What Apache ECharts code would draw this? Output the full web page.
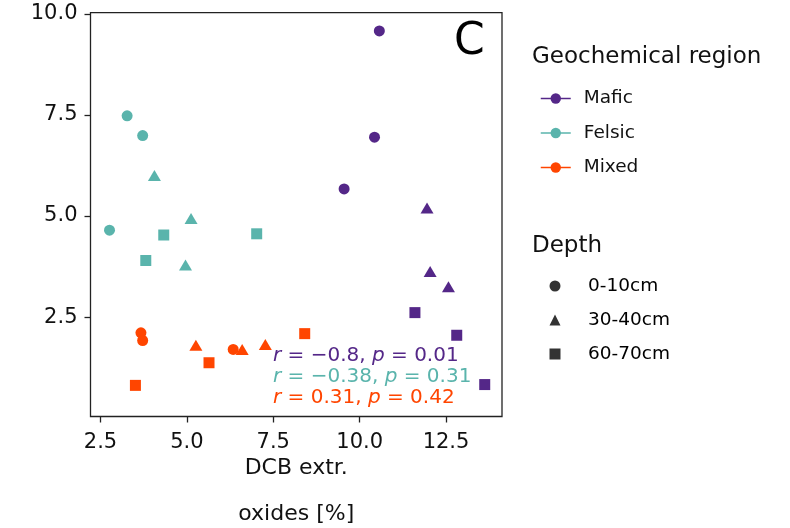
<!DOCTYPE html>
<html>
<head>
<meta charset="utf-8">
<script src="https://cdn.jsdelivr.net/npm/echarts@6/dist/echarts.min.js"></script>
<style>
  html, body { margin: 0; padding: 0; background: #fff; }
  #chart { width: 790px; height: 528px; }
</style>
</head>
<body>
<div id="chart"></div>
<script>
// [x, y, depth index]
const regions = ['Mafic', 'Felsic', 'Mixed']
const depths = ['0-10cm', '30-40cm', '60-70cm']
const mafic = [
  [10.57, 9.58, 0], [10.43, 6.95, 0], [9.55, 5.67, 0],
  [11.95, 5.20, 1], [12.04, 3.63, 1], [12.57, 3.25, 1],
  [11.60, 2.61, 2], [12.81, 2.05, 2], [13.62, 0.83, 2]
]
const felsic = [
  [3.27, 7.48, 0], [3.72, 6.99, 0], [2.76, 4.65, 0],
  [4.06, 6.00, 1], [5.12, 4.94, 1], [4.96, 3.79, 1],
  [4.33, 4.53, 2], [7.02, 4.56, 2], [3.81, 3.90, 2]
]
const mixed = [
  [3.67, 2.11, 0], [3.72, 1.92, 0], [6.34, 1.70, 0],
  [5.26, 1.80, 1], [6.60, 1.70, 1], [7.27, 1.82, 1],
  [8.41, 2.09, 2], [5.64, 1.37, 2], [3.51, 0.81, 2]
]
const xTicks = [2.5, 5.0, 7.5, 10.0, 12.5]
const yTicks = [2.5, 5.0, 7.5, 10.0]
const stats = [
  { r: '\u22120.8', p: '0.01' },
  { r: '\u22120.38', p: '0.31' },
  { r: '0.31', p: '0.42' }
]

const colors = ['#542788', '#5ab4ac', '#ff4500']
const shapes = ['circle', 'triangle', 'rect']
const shapeSizes = [11, [13, 11], 11]
const font = 'DejaVu Sans'

const regionData = [mafic, felsic, mixed]

const regionSeries = regions.map((name, i) => ({
  name,
  type: 'line',
  symbol: 'circle',
  color: colors[i],
  lineStyle: { opacity: 0 },
  itemStyle: { color: colors[i] },
  z: 3,
  data: regionData[i].map(d => ({
    value: [d[0], d[1]],
    symbol: shapes[d[2]],
    symbolSize: shapeSizes[d[2]]
  }))
}))

const depthSeries = depths.map((name, i) => ({
  name,
  type: 'scatter',
  symbol: shapes[i],
  itemStyle: { color: '#000' },
  data: []
}))

const statTexts = stats.map((s, i) => ({
  type: 'text',
  left: 273,
  top: 346 + i * 21,
  style: {
    text: '{i|r} = ' + s.r + ', {i|p} = ' + s.p,
    fill: colors[i],
    font: '20px ' + font,
    rich: { i: { fontStyle: 'italic', fontSize: 20, fontFamily: font, fill: colors[i] } }
  }
}))

const chart = echarts.init(document.getElementById('chart'))
chart.setOption({
  animation: false,
  grid: {
    left: 90.5, top: 12.7, right: 288, bottom: 111.5,
    outerBoundsMode: 'none',
    show: true, borderColor: '#222', borderWidth: 1.3
  },
  xAxis: {
    type: 'value',
    min: 2.21, max: 14.12,
    axisLine: { show: false },
    splitLine: { show: false },
    axisTick: { show: true, length: 6, lineStyle: { color: '#222', width: 1.3 }, customValues: xTicks },
    axisLabel: { customValues: xTicks, formatter: v => v.toFixed(1), fontSize: 21, fontFamily: font, color: '#111', margin: 16 },
    name: 'DCB extr.\noxides [%]',
    nameLocation: 'middle',
    nameGap: 29,
    nameMoveOverlap: false,
    nameTextStyle: { fontSize: 22, fontFamily: font, color: '#111', lineHeight: 46 }
  },
  yAxis: {
    type: 'value',
    min: 0.04, max: 10.03,
    axisLine: { show: false },
    splitLine: { show: false },
    axisTick: { show: true, length: 6, lineStyle: { color: '#222', width: 1.3 }, customValues: yTicks },
    axisLabel: { customValues: yTicks, formatter: v => v.toFixed(1), fontSize: 21, fontFamily: font, color: '#111', margin: 13 }
  },
  legend: [
    {
      data: regions,
      orient: 'vertical',
      left: 535, top: 84,
      itemWidth: 30, itemHeight: 13, itemGap: 15.5,
      lineStyle: { opacity: 1, width: 1.5 },
      textStyle: { fontSize: 18.5, fontFamily: font, color: '#111', padding: [0, 0, 0, 8] },
      selectedMode: false
    },
    {
      data: depths,
      orient: 'vertical',
      left: 544.5, top: 271.5,
      itemWidth: 11, itemHeight: 11, itemGap: 15,
      textStyle: { fontSize: 18.5, fontFamily: font, color: '#000', padding: [0, 0, 0, 22.5] },
      selectedMode: false
    }
  ],
  graphic: [
    { type: 'text', left: 532, top: 46, style: { text: 'Geochemical region', font: '23px ' + font, fill: '#111' } },
    { type: 'text', left: 532, top: 235, style: { text: 'Depth', font: '23px ' + font, fill: '#111' } },
    { type: 'text', left: 454, top: 21, style: { text: 'C', font: '44px ' + font, fill: '#000' } }
  ].concat(statTexts),
  series: regionSeries.concat(depthSeries)
})
</script>
</body>
</html>
